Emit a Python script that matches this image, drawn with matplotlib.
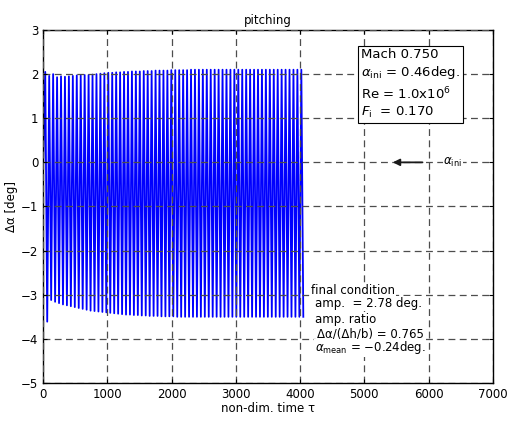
import matplotlib
matplotlib.use("Agg")
import matplotlib.pyplot as plt
import numpy as np

# peak / trough values of each pitching cycle
upper = [2.05, 1.96, 2.00, 1.93, 1.95, 1.94, 1.95, 1.96, 1.97, 1.97,
         1.98, 1.98, 1.99, 2.00, 2.01, 2.02, 2.03, 2.03, 2.04, 2.04,
         2.05, 2.05, 2.06, 2.06, 2.06, 2.07, 2.07, 2.07, 2.08, 2.08,
         2.08, 2.08, 2.09, 2.09, 2.09, 2.09, 2.09, 2.10, 2.10, 2.10,
         2.10, 2.10, 2.10, 2.10, 2.10, 2.10, 2.10, 2.10, 2.10, 2.10,
         2.10, 2.10, 2.10, 2.10, 2.10, 2.10, 2.10, 2.10, 2.10, 2.10,
         2.10, 2.10, 2.10, 2.10, 2.10, 2.10]
lower = [-3.61, -3.12, -3.16, -3.19, -3.22, -3.24, -3.26, -3.28, -3.30, -3.32,
         -3.34, -3.36, -3.37, -3.38, -3.39, -3.40, -3.41, -3.42, -3.43, -3.44,
         -3.45, -3.45, -3.46, -3.46, -3.47, -3.47, -3.48, -3.48, -3.48, -3.49,
         -3.49, -3.49, -3.49, -3.50, -3.50, -3.50, -3.50, -3.50, -3.50, -3.50,
         -3.50, -3.50, -3.50, -3.50, -3.50, -3.50, -3.50, -3.50, -3.50, -3.50,
         -3.50, -3.50, -3.50, -3.50, -3.50, -3.50, -3.50, -3.50, -3.50, -3.50,
         -3.50, -3.50, -3.50, -3.50, -3.50, -3.50]
t_end = 4050.0   # last time of the run
alpha_ini = 0.0

xticks = [0, 1000, 2000, 3000, 4000, 5000, 6000, 7000]
yticks = [-5, -4, -3, -2, -1, 0, 1, 2, 3]

# alternate peak / trough, starting from zero
vals = [0.0]
for u, l in zip(upper, lower):
    vals += [u, l]
vals = np.array(vals)
t = np.linspace(0, t_end, len(vals))

plt.rcParams['font.family'] = ['DejaVu Sans']
fig = plt.figure(figsize=(5.11, 4.23), dpi=100)
ax = fig.add_axes([0.0847, 0.0946, 0.8795, 0.8345])

ax.plot(t, vals, color=(0, 0, 1), lw=1.3)

ax.set_xlim(0, 7000)
ax.set_ylim(-5, 3)
ax.set_xticks(xticks)
ax.set_yticks(yticks)
ax.tick_params(direction='in', top=True, right=True, labelsize=8.5, length=3)
ax.set_axisbelow(False)  # grid drawn over the trace, as in the original
ax.grid(True, color='0.3', ls=(0, (5.5, 3.5)), lw=0.9)
for s in ax.spines.values():
    s.set_linewidth(1.0)

ax.set_title("pitching", fontsize=8.5, pad=4)
ax.set_xlabel("non-dim. time τ", fontsize=8.5, labelpad=1)
ax.set_ylabel("Δα [deg]", fontsize=8.5, labelpad=2)

# condition box
ax.text(4950, 2.6,
        "Mach 0.750\n$\\alpha_{\\rm ini}$ = 0.46deg.\nRe = 1.0x10$^6$\n$F_{\\rm i}$  = 0.170",
        fontsize=9.5, va='top', ha='left', linespacing=1.3, zorder=5,
        bbox=dict(boxstyle='square,pad=0.2', fc='white', ec='black', lw=0.8))

# final condition text
wb = dict(boxstyle='square,pad=0.05', fc='white', ec='none')
ax.text(4170, -2.9, "final condition", fontsize=8.5, va='center', bbox=wb, zorder=5)
ax.text(4230, -3.2, "amp.  = 2.78 deg.", fontsize=8.5, va='center', bbox=wb, zorder=5)
ax.text(4230, -3.55, "amp. ratio", fontsize=8.5, va='center', bbox=wb, zorder=5)
ax.text(4260, -3.88, "Δα/(Δh/b) = 0.765", fontsize=8.5, va='center', bbox=wb, zorder=5)
ax.text(4230, -4.2, "$\\alpha_{\\rm mean}$ = −0.24deg.", fontsize=8.5, va='center', bbox=wb, zorder=5)

# alpha_ini marker
ax.annotate("", xy=(5400, alpha_ini), xytext=(5950, alpha_ini),
            arrowprops=dict(arrowstyle='-|>', color='0.1', lw=1.3, mutation_scale=10))
ax.text(6230, alpha_ini, "$\\alpha_{\\rm ini}$", fontsize=8.5, va='center', ha='left', bbox=wb, zorder=5)

fig.savefig("out.png", dpi=100)
